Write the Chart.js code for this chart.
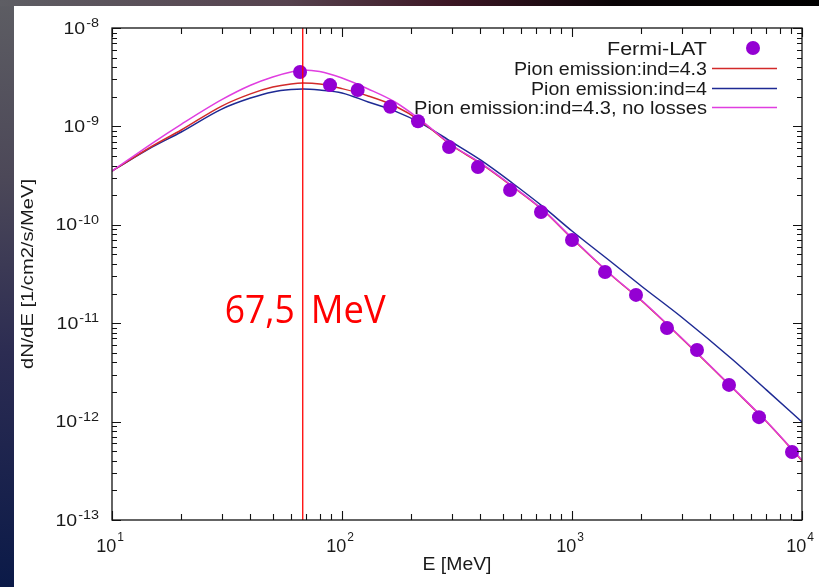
<!DOCTYPE html>
<html>
<head>
<meta charset="utf-8">
<script src="https://cdn.jsdelivr.net/npm/chart.js@4/dist/chart.umd.min.js"></script>
<style>
  html, body { margin: 0; padding: 0; }
  body { width: 819px; height: 587px; overflow: hidden; position: relative;
         background: linear-gradient(180deg, #5d5d63 0%, #4c4858 30%, #2c2c52 60%, #0b1a48 100%); }
  #topstrip { position: absolute; left: 0; top: 0; width: 819px; height: 6px;
              background: linear-gradient(90deg, #5e5e64 0%, #56424e 35%, #3c1624 55%, #0a0406 75%, #000 100%); }
  #panel { position: absolute; left: 14px; top: 6px; width: 805px; height: 581px; background: #fff; }
  canvas { display: block; }
</style>
</head>
<body>
<div id="topstrip"></div>
<div id="panel"><canvas id="c" width="805" height="581"></canvas></div>
<script>
// ---------------- data ----------------
const fermiE    = [65.7, 88.7, 117, 162, 214, 292, 390, 538, 733, 1000, 1392, 1898, 2588, 3495, 4815, 6501, 9047];
const fermiFlux = [3.57e-9, 2.63e-9, 2.34e-9, 1.58e-9, 1.13e-9, 6.18e-10, 3.87e-10, 2.26e-10, 1.35e-10,
                   7.0e-11, 3.31e-11, 1.94e-11, 8.94e-12, 5.34e-12, 2.36e-12, 1.11e-12, 4.91e-13];

const modelE = [10, 15, 20, 30, 40, 50, 60, 67.5, 80, 100, 130, 170, 220, 300, 400, 550, 750,
                1000, 1500, 2000, 3000, 5000, 7000, 10000];
const pion43 = [3.52e-10, 6.32e-10, 9.19e-10, 1.61e-9, 2.14e-9, 2.51e-9, 2.70e-9, 2.76e-9, 2.70e-9, 2.42e-9,
                2.04e-9, 1.61e-9, 1.13e-9, 6.40e-10, 4.20e-10, 2.45e-10, 1.40e-10,
                7.25e-11, 3.00e-11, 1.70e-11, 7.00e-12, 2.18e-12, 1.00e-12, 4.00e-13];
const pion4  = [3.52e-10, 6.18e-10, 8.77e-10, 1.50e-9, 1.94e-9, 2.24e-9, 2.37e-9, 2.40e-9, 2.34e-9, 2.19e-9,
                1.77e-9, 1.43e-9, 1.08e-9, 6.94e-10, 4.56e-10, 2.66e-10, 1.52e-10,
                8.65e-11, 4.09e-11, 2.39e-11, 1.15e-11, 4.25e-12, 2.10e-12, 9.90e-13];
const pion43NoLoss = [3.52e-10, 6.78e-10, 1.05e-9, 1.87e-9, 2.62e-9, 3.18e-9, 3.57e-9, 3.74e-9, 3.61e-9, 3.10e-9,
                2.40e-9, 1.77e-9, 1.16e-9, 6.47e-10, 4.25e-10, 2.48e-10, 1.41e-10,
                7.34e-11, 3.02e-11, 1.72e-11, 7.07e-12, 2.20e-12, 1.01e-12, 4.07e-13];

const markerE = 67.5;
const markerText = ['67,5', 'MeV'];
const legendLabels = ['Fermi-LAT', 'Pion emission:ind=4.3', 'Pion emission:ind=4', 'Pion emission:ind=4.3, no losses'];
const xTickExps = [1, 2, 3, 4];
const yTickExps = [-8, -9, -10, -11, -12, -13];
const xTitle = 'E [MeV]';
const yTitle = 'dN/dE [1/cm2/s/MeV]';

// ---------------- helpers ----------------
const SANS = '"Liberation Sans", Arial, Helvetica, sans-serif';
function txt(ctx, s, x, y, size, align, sx, family, color) {
  ctx.save();
  ctx.font = size + 'px ' + (family || SANS);
  ctx.fillStyle = color || '#1a1a1a';
  const w = ctx.measureText(s).width * sx;
  const x0 = align === 'right' ? x - w : (align === 'center' ? x - w / 2 : x);
  ctx.translate(x0, y);
  ctx.scale(sx, 1);
  ctx.textAlign = 'left';
  ctx.textBaseline = 'alphabetic';
  ctx.fillText(s, 0, 0);
  ctx.restore();
  return w;
}
function fitTxt(ctx, s, x, y, size, align, targetW, family, color) {
  ctx.save();
  ctx.font = size + 'px ' + (family || SANS);
  const nat = ctx.measureText(s).width;
  ctx.restore();
  return txt(ctx, s, x, y, size, align, targetW / nat, family, color);
}
function supW(ctx, s, size, sx) {
  ctx.save(); ctx.font = size + 'px ' + SANS; const w = ctx.measureText(s).width * sx; ctx.restore(); return w;
}

const COLORS = { fermi: '#9400d3', red: '#d22a2a', blue: '#1e2a94', mag: '#e03ee0', marker: '#ff0000' };

const overlay = {
  id: 'overlay',
  afterDraw(chart) {
    const ctx = chart.ctx;
    const { left, right, top, bottom } = chart.chartArea;
    const xs = chart.scales.x, ys = chart.scales.y;
    ctx.save();
    // frame
    ctx.strokeStyle = '#111';
    ctx.lineWidth = 1.3;
    ctx.strokeRect(left, top, right - left, bottom - top);
    // ticks (inward, mirrored)
    ctx.lineWidth = 1.1;
    ctx.beginPath();
    for (let d = 1; d <= 4; d++) {
      for (let m = 1; m <= 9; m++) {
        const v = m * Math.pow(10, d);
        if (v > 10000 + 1e-6) break;
        const px = Math.round(xs.getPixelForValue(v)) + 0.5;
        const len = m === 1 ? 9 : 6;
        ctx.moveTo(px, bottom); ctx.lineTo(px, bottom - len);
        ctx.moveTo(px, top); ctx.lineTo(px, top + len);
      }
    }
    for (let d = -13; d <= -8; d++) {
      for (let m = 1; m <= 9; m++) {
        const v = m * Math.pow(10, d);
        if (d === -8 && m > 1) break;
        const py = Math.round(ys.getPixelForValue(v)) + 0.5;
        const len = m === 1 ? 9 : 5;
        ctx.moveTo(left, py); ctx.lineTo(left + len, py);
        ctx.moveTo(right, py); ctx.lineTo(right - len, py);
      }
    }
    ctx.stroke();

    // y tick labels
    yTickExps.forEach(e => {
      const py = ys.getPixelForValue(Math.pow(10, e));
      const es = String(e);
      const ew = supW(ctx, es, 12, 1.2);
      const xr = left - 13;
      txt(ctx, es, xr, py - 1, 12, 'right', 1.2);
      txt(ctx, '10', xr - ew - 1, py + 5.5, 16, 'right', 1.22);
    });
    // x tick labels
    xTickExps.forEach(e => {
      const px = xs.getPixelForValue(Math.pow(10, e));
      const es = String(e);
      const w10 = supW(ctx, '10', 18, 1.0);
      const ew = supW(ctx, es, 12, 1.0);
      const x0 = px - 2 - (w10 + ew + 1) / 2;
      txt(ctx, '10', x0, bottom + 32, 18, 'left', 1.0);
      txt(ctx, es, x0 + w10 + 1, bottom + 21, 12, 'left', 1.0);
    });
    // axis titles
    fitTxt(ctx, xTitle, (left + right) / 2, bottom + 50, 18, 'center', 69);
    ctx.save();
    ctx.translate(19, (top + bottom) / 2);
    ctx.rotate(-Math.PI / 2);
    fitTxt(ctx, yTitle, 0, 0, 17, 'center', 190);
    ctx.restore();

    // legend
    const ds = chart.data.datasets;
    const rowsY = [42, 62, 82, 101];
    const textR = 693, lx0 = 698, lx1 = 763;
    const widths = [100, 193, 176, 293];
    legendLabels.forEach((lab, i) => {
      fitTxt(ctx, lab, textR, rowsY[i] + 6.5, 18, 'right', widths[i]);
      if (i === 0) {
        ctx.beginPath();
        ctx.fillStyle = ds[0].backgroundColor;
        ctx.arc(739, rowsY[i], 7, 0, Math.PI * 2);
        ctx.fill();
      } else {
        ctx.beginPath();
        ctx.strokeStyle = ds[i].borderColor;
        ctx.lineWidth = 1.6;
        ctx.moveTo(lx0, rowsY[i] + 0.5);
        ctx.lineTo(lx1, rowsY[i] + 0.5);
        ctx.stroke();
      }
    });

    // annotation text next to the marker line
    const mx = xs.getPixelForValue(markerE);
    const OPEN = '"Open Sans", "Noto Sans", sans-serif';
    fitTxt(ctx, markerText[0], mx - 8, 317, 38, 'right', 70, OPEN, COLORS.marker);
    fitTxt(ctx, markerText[1], mx + 8, 317, 38, 'left', 75, OPEN, COLORS.marker);
    ctx.restore();
  }
};

const pts = (xsArr, ysArr) => xsArr.map((x, i) => ({ x, y: ysArr[i] }));

new Chart(document.getElementById('c'), {
  type: 'line',
  data: {
    datasets: [
      { label: legendLabels[0], data: pts(fermiE, fermiFlux), showLine: false,
        pointRadius: 7, pointHoverRadius: 7, pointBorderWidth: 0,
        backgroundColor: COLORS.fermi, borderColor: COLORS.fermi, order: 1 },
      { label: legendLabels[1], data: pts(modelE, pion43), borderColor: COLORS.red, backgroundColor: COLORS.red,
        borderWidth: 1.5, pointRadius: 0, cubicInterpolationMode: 'monotone', order: 3 },
      { label: legendLabels[2], data: pts(modelE, pion4), borderColor: COLORS.blue, backgroundColor: COLORS.blue,
        borderWidth: 1.5, pointRadius: 0, cubicInterpolationMode: 'monotone', order: 4 },
      { label: legendLabels[3], data: pts(modelE, pion43NoLoss), borderColor: COLORS.mag, backgroundColor: COLORS.mag,
        borderWidth: 1.5, pointRadius: 0, cubicInterpolationMode: 'monotone', order: 2 },
      { label: 'marker', data: [{ x: markerE, y: 1e-13 }, { x: markerE, y: 1e-8 }],
        borderColor: COLORS.marker, borderWidth: 1.3, pointRadius: 0, order: 0 }
    ]
  },
  options: {
    responsive: false,
    animation: false,
    devicePixelRatio: 1,
    layout: { padding: { left: 0, top: 22, right: 17, bottom: 0 } },
    scales: {
      x: { type: 'logarithmic', min: 10, max: 10000,
           grid: { display: false }, border: { display: false }, ticks: { display: false },
           afterFit(s) { s.height = 67; } },
      y: { type: 'logarithmic', min: 1e-13, max: 1e-8,
           grid: { display: false }, border: { display: false }, ticks: { display: false },
           afterFit(s) { s.width = 98; } }
    },
    plugins: { legend: { display: false }, tooltip: { enabled: false } }
  },
  plugins: [overlay]
});
</script>
</body>
</html>
